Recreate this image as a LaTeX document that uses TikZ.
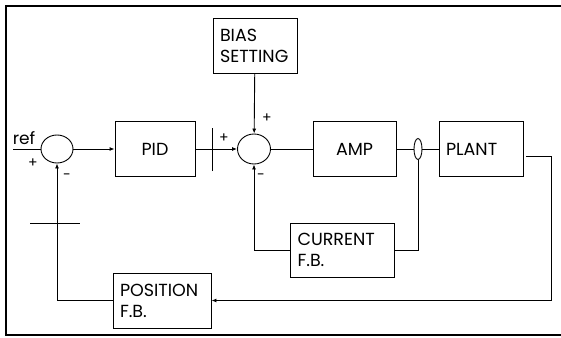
\documentclass[tikz,border=0pt]{standalone}
\usepackage{fontspec}
\setmainfont{Poppins}
\usetikzlibrary{positioning,arrows.meta,shapes.geometric}

\begin{document}
\begin{tikzpicture}[
  x=1pt, y=-1pt,
  font=\fontsize{17.5}{21}\selectfont,
  blk/.style={draw, line width=0.9pt, minimum height=55pt, inner xsep=7pt, align=left},
  sumj/.style={draw, ellipse, line width=0.9pt, minimum width=32pt, minimum height=28pt, inner sep=0pt},
  sig/.style={line width=0.9pt},
  sarr/.style={sig, -{Latex[length=5pt,width=4pt]}},
  sgn/.style={font=\fontsize{14}{14}\selectfont, inner sep=0pt}
]
  \useasboundingbox (0,0) rectangle (561,337);
  % frame
  \draw[line width=1.6pt] (561,6) -- (6,6) -- (6,335) -- (561,335);

  % forward path
  \node[sumj] (s1) at (57,149) {};
  \node[blk, minimum width=80pt, align=center] (pid) at (155,149) {PID};
  \node[sumj, minimum width=33pt, minimum height=30pt] (s2) at (254,149) {};
  \node[blk, text width=70pt] (bias) at (255,45.5) {BIAS\\SETTING};
  \node[blk, minimum width=83pt, align=center] (amp) at (354.5,149) {AMP};
  \node[draw, ellipse, line width=0.9pt, minimum width=8pt, minimum height=21pt, inner sep=0pt] (meas) at (418,149) {};
  \node[blk, text width=70pt] (plant) at (481,149) {PLANT};

  % feedback blocks
  \node[blk, text width=90pt, minimum height=54pt] (cur) at (342.5,250) {CURRENT\\F.B.};
  \node[blk, text width=84pt] (pos) at (162,300.5) {POSITION\\F.B.};

  % labels
  \coordinate (in) at (13,149);
  \node[sgn, font=\fontsize{17}{17}\selectfont] (reflbl) at (24,138) {ref};
  \node[sgn] (p1) at (33,163) {+};
  \node[sgn] (m1) at (67,177) {-};
  \node[sgn] (p2) at (224,138) {+};
  \node[sgn] (p3) at (267,118) {+};
  \node[sgn] (m2) at (261,177) {-};

  % connectors
  \draw[sig] (in) -- (s1.west);
  \draw[sarr] (s1.east) -- (pid.west);
  \draw[sarr] (pid.east) -- (s2.west);
  \path (pid.east) -- (s2.west) coordinate[pos=0.42] (bar);
  \draw[sig] ([yshift=-22pt]bar) -- ([yshift=21pt]bar);
  \draw[sarr] (bias) -- (s2);
  \draw[sig] (s2) -- (amp);
  \draw[sig] (amp) -- (meas);
  \draw[sig] (meas) -- (plant);
  \draw[sig] (meas.south) |- (cur.east);
  \draw[sarr] (cur.west) -| (s2.south);

  \coordinate (pcor) at (551,300.5);
  \draw[sarr] ([xshift=3pt,yshift=-7pt]plant.east) -| (pcor) -- (pos.east);
  \draw[sarr] (pos.west) -| (s1.south);
  \coordinate (tk) at (57,223);
  \draw[sig] ([xshift=-27pt]tk) -- ([xshift=23pt]tk);
\end{tikzpicture}
\end{document}
